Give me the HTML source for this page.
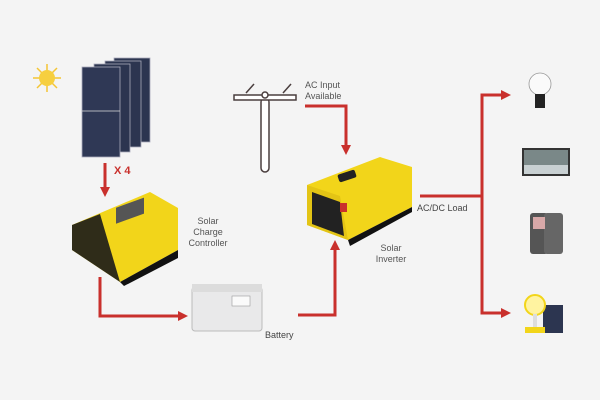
<!DOCTYPE html>
<html><head><meta charset="utf-8"><style>
html,body{margin:0;padding:0;background:#f4f4f4;}
svg{display:block;font-family:"Liberation Sans",sans-serif;}
</style></head><body>
<svg width="600" height="400" viewBox="0 0 600 400" xmlns="http://www.w3.org/2000/svg">
<rect width="600" height="400" fill="#f4f4f4"/>
<defs>
<marker id="ah" markerWidth="10" markerHeight="10" refX="5" refY="5" orient="auto" markerUnits="userSpaceOnUse"><path d="M0,0 L10,5 L0,10 Z" fill="#c9302c"/></marker>
</defs>
<!-- sun -->
<g stroke="#f4c534" stroke-width="1.5">
<line x1="47" y1="64" x2="47" y2="92"/><line x1="33" y1="78" x2="61" y2="78"/>
<line x1="37" y1="68" x2="57" y2="88"/><line x1="57" y1="68" x2="37" y2="88"/>
</g>
<circle cx="47" cy="78" r="8" fill="#f6cf3f"/>
<!-- panels -->
<g stroke="#aab" stroke-width="0.8">
<rect x="114" y="58" width="36" height="84" fill="#2c3550"/>
<rect x="105" y="61" width="36" height="86" fill="#2c3550"/>
<rect x="94" y="64" width="36" height="88" fill="#2c3550"/>
<rect x="82" y="67" width="38" height="90" fill="#2f3855"/>
<line x1="82" y1="111" x2="120" y2="111" stroke="#ddd"/>
</g>
<!-- x4 arrow -->
<line x1="105" y1="163" x2="105" y2="192" stroke="#c9302c" stroke-width="3" marker-end="url(#ah)"/>
<text x="114" y="174" font-size="11" font-weight="bold" fill="#c9302c">X 4</text>
<!-- charge controller -->
<polygon points="72,225 150,192 178,208 178,250 120,282 72,250" fill="#f2d51a"/>
<polygon points="72,225 100,214 120,282 72,250" fill="#1a1a1a" opacity="0.9"/>
<polygon points="120,282 178,250 178,258 124,286" fill="#111"/>
<rect x="116" y="205" width="28" height="16" fill="#555" transform="skewY(-20) translate(0,45)"/>
<text font-size="9" fill="#555" text-anchor="middle"><tspan x="208" y="224">Solar</tspan><tspan x="208" y="235">Charge</tspan><tspan x="208" y="246">Controller</tspan></text>
<!-- controller -> battery -->
<polyline points="100,277 100,316 183,316" fill="none" stroke="#c9302c" stroke-width="3" marker-end="url(#ah)"/>
<!-- battery -->
<rect x="192" y="287" width="70" height="44" rx="3" fill="#e9e9ea" stroke="#bbb"/>
<rect x="192" y="284" width="70" height="8" fill="#dcdcdc"/>
<rect x="232" y="296" width="18" height="10" fill="#fafafa" stroke="#999" stroke-width="0.6"/>
<text x="265" y="338" font-size="9" fill="#444">Battery</text>
<!-- battery -> inverter -->
<polyline points="298,315 335,315 335,245" fill="none" stroke="#c9302c" stroke-width="3" marker-end="url(#ah)"/>
<!-- pole -->
<g fill="#fff" stroke="#4a3e3e" stroke-width="1.5">
<rect x="261" y="98" width="8" height="74" rx="4"/>
<rect x="234" y="95" width="62" height="5"/>
<circle cx="265" cy="95" r="3"/>
<line x1="246" y1="93" x2="254" y2="84"/><line x1="283" y1="93" x2="291" y2="84"/>
</g>
<text font-size="9" fill="#555"><tspan x="305" y="88">AC Input</tspan><tspan x="305" y="99">Available</tspan></text>
<polyline points="305,106 346,106 346,150" fill="none" stroke="#c9302c" stroke-width="3" marker-end="url(#ah)"/>
<!-- inverter -->
<polygon points="307,185 380,157 412,167 412,207 348,240 307,225" fill="#f2d51a"/>
<polygon points="307,185 340,196 348,240 307,225" fill="#e3c415"/>
<polygon points="312,192 340,202 344,236 312,224" fill="#222"/>
<polygon points="348,240 412,207 412,212 350,246" fill="#111"/>
<rect x="338" y="172" width="18" height="8" rx="2" fill="#222" transform="rotate(-18 347 176)"/>
<rect x="340" y="203" width="7" height="9" fill="#c9302c"/>
<text font-size="9" fill="#555" text-anchor="middle"><tspan x="391" y="251">Solar</tspan><tspan x="391" y="262">Inverter</tspan></text>
<!-- loads -->
<line x1="420" y1="196" x2="482" y2="196" stroke="#c9302c" stroke-width="3"/>
<polyline points="505,95 482,95 482,313 505,313" fill="none" stroke="#c9302c" stroke-width="3"/>
<line x1="482" y1="95" x2="506" y2="95" stroke="#c9302c" stroke-width="3" marker-end="url(#ah)"/>
<line x1="482" y1="313" x2="506" y2="313" stroke="#c9302c" stroke-width="3" marker-end="url(#ah)"/>
<text x="417" y="211" font-size="9" fill="#444">AC/DC Load</text>
<!-- bulb -->
<circle cx="540" cy="84" r="11" fill="#fafafa" stroke="#999" stroke-width="0.8"/>
<rect x="535" y="94" width="10" height="14" fill="#222"/>
<!-- tv -->
<rect x="522" y="148" width="48" height="28" fill="#333"/>
<rect x="524" y="150" width="44" height="24" fill="#7a8888"/>
<rect x="524" y="165" width="44" height="9" fill="#c8d0d2"/>
<!-- phone -->
<rect x="530" y="213" width="18" height="41" rx="3" fill="#555"/>
<rect x="544" y="213" width="19" height="41" rx="3" fill="#666"/>
<rect x="533" y="217" width="12" height="12" fill="#d8a8a8"/>
<!-- fan + panel -->
<rect x="543" y="305" width="20" height="28" fill="#2c3550"/>
<circle cx="535" cy="305" r="10" fill="#fff3a0" stroke="#f2d51a" stroke-width="2"/>
<rect x="533" y="314" width="4" height="14" fill="#ddd"/>
<rect x="525" y="327" width="20" height="6" fill="#f2d51a"/>
</svg>
</body></html>
